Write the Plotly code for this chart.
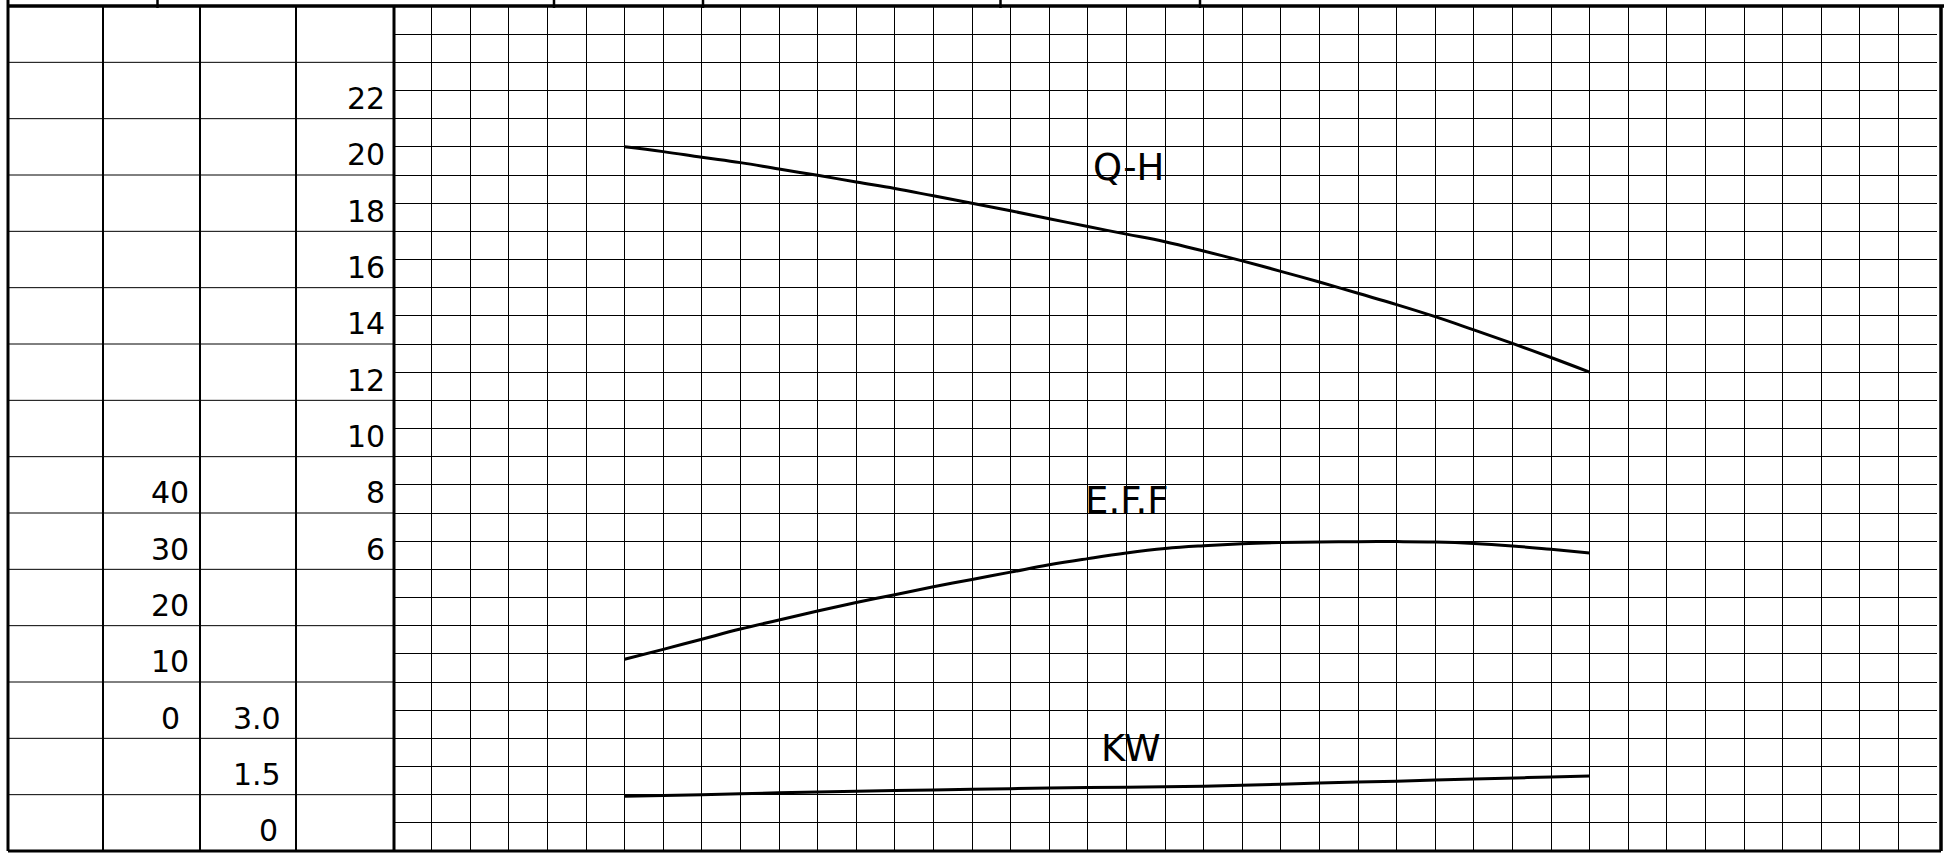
import plotly.graph_objects as go

# ---------------- data ----------------
# flow positions in grid-column units (x axis has no printed labels)
q_qh = [6, 7, 8, 9, 10, 11, 12, 13, 14, 15, 16, 17, 18, 19, 20, 21, 22, 23, 24, 25, 26, 27, 28, 29, 30, 31]
head = [20.0, 19.83, 19.63, 19.44, 19.21, 18.99, 18.75, 18.52, 18.26, 18.0, 17.73, 17.45, 17.17,
        16.9, 16.63, 16.30, 15.95, 15.58, 15.20, 14.80, 14.40, 13.97, 13.50, 13.02, 12.52, 12.0]

q_eff = [6, 7, 8, 9, 10, 11, 12, 13, 14, 15, 16, 17, 18, 19, 20, 21, 22, 23, 24, 25, 26, 27, 28, 29, 30, 31]
eff = [9.05, 10.8, 12.6, 14.4, 16.0, 17.6, 19.1, 20.5, 21.9, 23.2, 24.5, 25.8, 26.9,
       27.9, 28.7, 29.2, 29.55, 29.75, 29.85, 29.9, 29.92, 29.85, 29.6, 29.15, 28.55, 27.9]

q_kw = [6, 8, 10, 12, 14, 16, 18, 20, 22, 24, 26, 28, 30, 31]
kw = [0.705, 0.75, 0.80, 0.84, 0.875, 0.91, 0.94, 0.96, 1.0, 1.06, 1.11, 1.17, 1.22, 1.25]

# axis tick labels printed in the left-hand table
h_ticks = [22, 20, 18, 16, 14, 12, 10, 8, 6]
eff_ticks = [40, 30, 20, 10, 0]
kw_ticks = [3.0, 1.5, 0]
kw_tick_text = ["3.0", "1.5", "0"]

curve_names = ["Q-H", "E.F.F", "KW"]

# ---------------- layout geometry (pixels) ----------------
W, H = 1944, 854
L, R, T, B = 393, 7, 6, 3
PW, PH = W - L - R, H - T - B


def px(x):
    return (x - L) / PW


def py(y):
    return (H - B - y) / PH


BLACK = "#000000"
NUM_FONT = dict(family="DejaVu Sans", size=30, color=BLACK)
LBL_FONT = dict(family="DejaVu Sans", size=37, color=BLACK)

fig = go.Figure()
line_style = dict(color=BLACK, width=3, shape="spline", smoothing=1.2)
fig.add_trace(go.Scatter(x=q_qh, y=head, mode="lines", line=line_style, yaxis="y", name=curve_names[0]))
fig.add_trace(go.Scatter(x=q_eff, y=eff, mode="lines", line=line_style, yaxis="y2", name=curve_names[1]))
fig.add_trace(go.Scatter(x=q_kw, y=kw, mode="lines", line=line_style, yaxis="y3", name=curve_names[2]))

grid = dict(showgrid=True, gridcolor=BLACK, gridwidth=1, zeroline=False,
            showticklabels=False, ticks="", showline=False, fixedrange=True)

fig.update_layout(
    width=W, height=H,
    margin=dict(l=L, r=R, t=T, b=B, pad=0),
    paper_bgcolor="white", plot_bgcolor="white",
    showlegend=False, hovermode=False,
    xaxis=dict(range=[0, 40], dtick=1, tick0=0, **grid),
    yaxis=dict(range=[-5, 25], dtick=1, tick0=0, **grid),
    yaxis2=dict(range=[-25, 125], overlaying="y", visible=False, fixedrange=True),
    yaxis3=dict(range=[-0.75, 21.75], overlaying="y", visible=False, fixedrange=True),
)

shapes = []


def hline(x0, x1, y, w):
    shapes.append(dict(type="line", xref="paper", yref="paper", x0=px(x0), x1=px(x1),
                       y0=py(y), y1=py(y), line=dict(color=BLACK, width=w)))


def vline(x, y0, y1, w):
    shapes.append(dict(type="line", xref="paper", yref="paper", x0=px(x), x1=px(x),
                       y0=py(y0), y1=py(y1), line=dict(color=BLACK, width=w)))


# outer frame
hline(8, W, 6, 3.5)
hline(8, 1941, 851, 3)
vline(8, 0, 851, 3)
vline(1941, 6, 851, 3.5)
vline(394, 6, 851, 3)
# stubs of the cut-off row above
for xt in [157.5, 554, 703, 1000.5, 1200]:
    vline(xt, 0, 8, 2.5)
# left-hand table columns
for xc in [103, 200, 296]:
    vline(xc, 6, 851, 2)
# left-hand table rows (every two grid rows)
for k in range(2, 30, 2):
    yk = T + k * PH / 30
    hline(8, 393, yk, 1)

fig.update_layout(shapes=shapes)

ann = []
for v in h_ticks:
    ann.append(dict(xref="paper", yref="y", x=px(387), y=v, text=str(v), showarrow=False,
                    xanchor="right", yanchor="middle", yshift=-8, font=NUM_FONT))
for v in eff_ticks:
    xr = 182 if v == 0 else 191
    ann.append(dict(xref="paper", yref="y2", x=px(xr), y=v, text=str(v), showarrow=False,
                    xanchor="right", yanchor="middle", yshift=-8, font=NUM_FONT))
for v, t in zip(kw_ticks, kw_tick_text):
    xr = 280 if t == "0" else 283
    ann.append(dict(xref="paper", yref="y3", x=px(xr), y=v, text=t, showarrow=False,
                    xanchor="right", yanchor="middle", yshift=-8, font=NUM_FONT))

# curve labels
ann.append(dict(xref="x", yref="y", x=19.05, y=19.27, text=curve_names[0], showarrow=False,
                xanchor="center", yanchor="middle", font=LBL_FONT))
ann.append(dict(xref="x", yref="y2", x=19.02, y=37.2, text=curve_names[1], showarrow=False,
                xanchor="center", yanchor="middle", font=LBL_FONT))
ann.append(dict(xref="x", yref="y3", x=19.12, y=1.97, text=curve_names[2], showarrow=False,
                xanchor="center", yanchor="middle", font=LBL_FONT))
fig.update_layout(annotations=ann)

fig.write_html("out.html", config={"displayModeBar": False, "staticPlot": True},
               post_script="document.body.style.margin='0px';document.body.style.padding='0px';")
